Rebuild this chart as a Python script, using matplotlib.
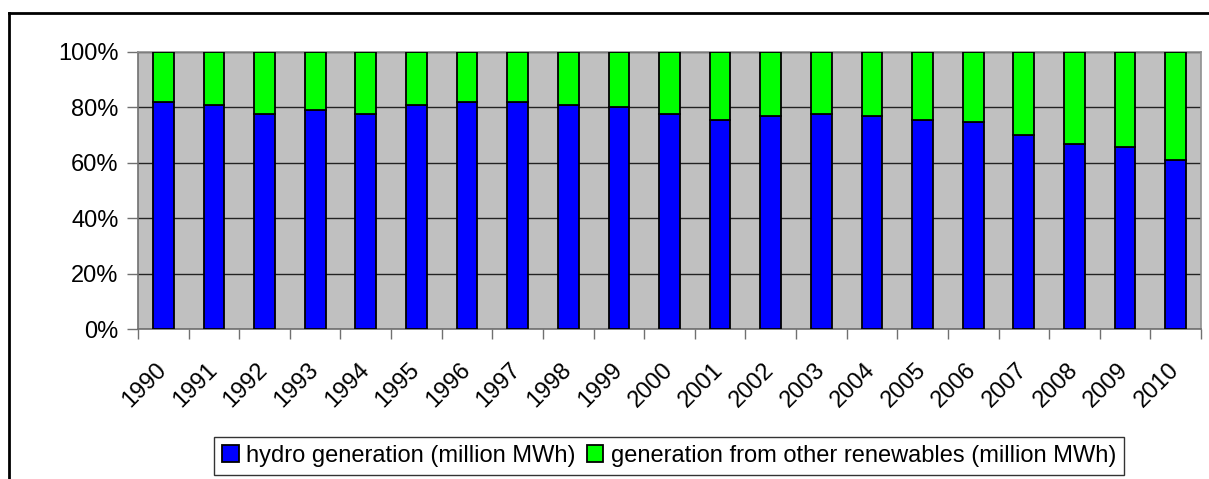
import matplotlib.pyplot as plt
from matplotlib.lines import Line2D
import numpy as np

# Share of renewable generation (%)
years = [str(y) for y in range(1990, 2011)]
hydro_share = [81.8, 80.7, 77.5, 78.8, 77.5, 80.7, 81.8, 81.8, 80.7, 80.2, 77.5,
               75.4, 76.8, 77.5, 76.8, 75.4, 74.7, 70.1, 66.8, 65.5, 60.8]
other_share = [100 - h for h in hydro_share]
y_ticks = [0, 20, 40, 60, 80, 100]

plt.rcParams['font.family'] = ['Liberation Sans', 'DejaVu Sans']
FS = 17

W, H = 1209, 479
fig = plt.figure(figsize=(W / 100, H / 100), dpi=100)
ax = fig.add_axes([138 / W, 1 - 329 / H, (1201 - 138) / W, (329 - 51.7) / H])

x = np.arange(len(years))
ax.bar(x, hydro_share, width=0.41, color='#0000FF', edgecolor='black',
       linewidth=1.3, label='hydro generation (million MWh)', zorder=3)
ax.bar(x, other_share, width=0.41, bottom=hydro_share, color='#00FF00',
       edgecolor='black', linewidth=1.3,
       label='generation from other renewables (million MWh)', zorder=3)

ax.set_facecolor('#C0C0C0')
ax.set_xlim(-0.5, len(years) - 0.5)
ax.set_ylim(0, 100)
ax.set_yticks(y_ticks)
ax.set_yticklabels([f'{t}%' for t in y_ticks], fontsize=FS)
ax.yaxis.grid(True, color='#222222', linewidth=1)
ax.set_axisbelow(True)

ax.set_xticks(x)
ax.set_xticklabels(years, fontsize=FS, rotation=45, ha='right',
                   va='center', rotation_mode='anchor')
ax.set_xticks(np.arange(len(years) + 1) - 0.5, minor=True)
ax.tick_params(axis='x', which='major', length=0, pad=27)
ax.tick_params(axis='x', which='minor', length=7, color='#707070', width=1)
ax.tick_params(axis='y', length=8, color='#707070', width=1, pad=6)

for side in ['top', 'right']:
    ax.spines[side].set_color('#909090')
for side in ['left', 'bottom']:
    ax.spines[side].set_color('#707070')
for s in ax.spines.values():
    s.set_linewidth(1.2)

leg = fig.legend(loc='center', bbox_to_anchor=(669 / W, 1 - 456 / H),
                 ncol=2, fontsize=FS, frameon=True, fancybox=False,
                 edgecolor='black', handlelength=0.7, handleheight=0.7,
                 handletextpad=0.3, columnspacing=0.5, borderpad=0.35,
                 borderaxespad=0)
leg.get_frame().set_linewidth(1)

# outer chart frame (only the left and top edges fall inside the picture)
fig.add_artist(Line2D([9 / W, 9 / W], [0, 1 - 13 / H], color='black',
                      linewidth=2, transform=fig.transFigure))
fig.add_artist(Line2D([9 / W, 1], [1 - 13 / H, 1 - 13 / H], color='black',
                      linewidth=2, transform=fig.transFigure))

fig.savefig('out.png', dpi=100)
